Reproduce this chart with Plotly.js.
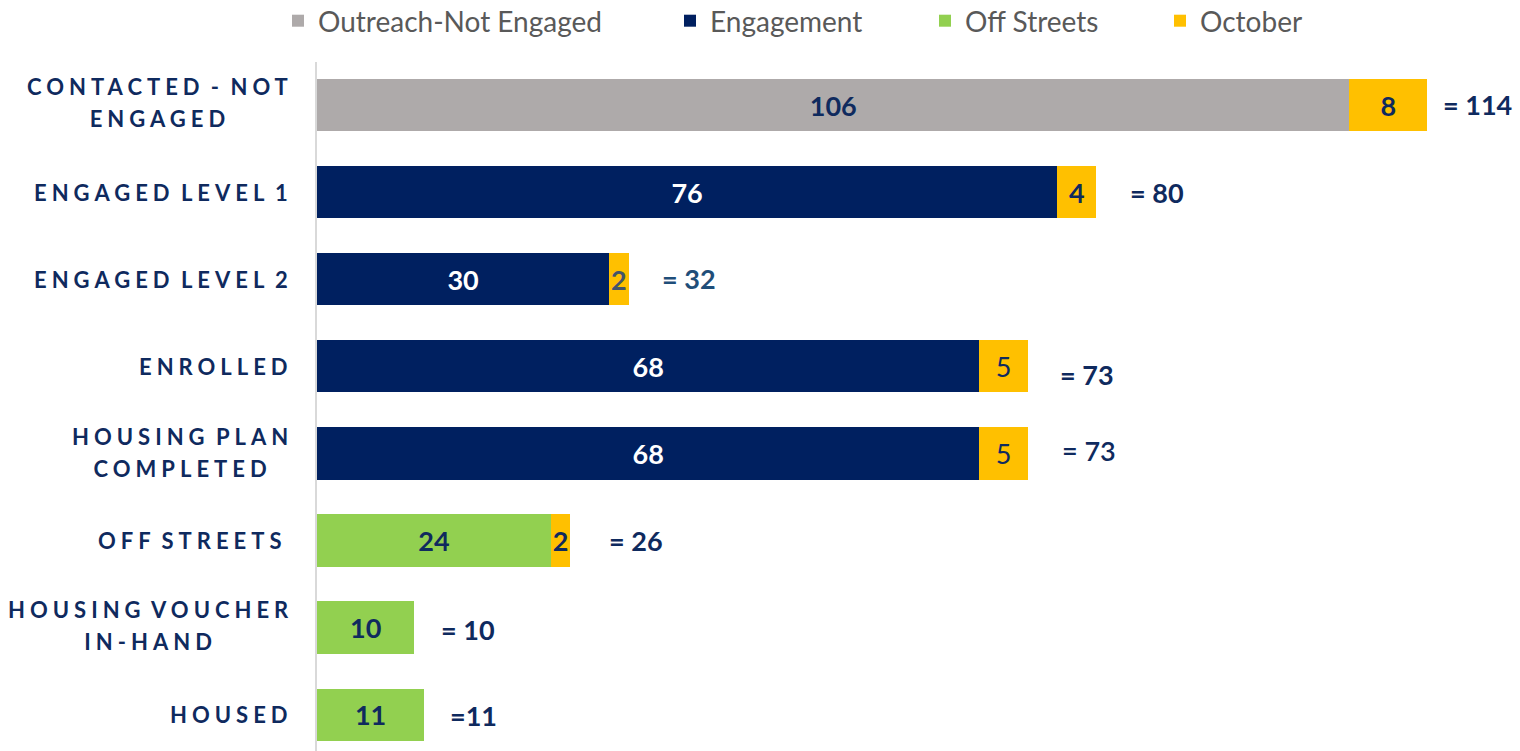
<!DOCTYPE html>
<html>
<head>
<meta charset="utf-8">
<script src="https://cdn.plot.ly/plotly-3.0.1.min.js"></script>
<style>
  html, body { margin: 0; padding: 0; background: #fff; }
  #chart { width: 1520px; height: 751px; }
  /* category labels (the only 22px annotations); also matches Plotly's measuring clone */
  text.annotation-text[style*="font-size: 22px"] {
    letter-spacing: 5px; word-spacing: -4px;
  }
</style>
</head>
<body>
<div id="chart"></div>
<script>
// ---- data ----
const categories = [
  "CONTACTED - NOT<br>ENGAGED",
  "ENGAGED LEVEL 1",
  "ENGAGED LEVEL 2",
  "ENROLLED",
  "HOUSING PLAN<br>COMPLETED",
  "OFF STREETS\u00a0",
  "HOUSING VOUCHER<br>IN-HAND",
  "HOUSED"
];
const outreachNotEngaged = [106, null, null, null, null, null, null, null];
const engagement         = [null, 76, 30, 68, 68, null, null, null];
const offStreets         = [null, null, null, null, null, 24, 10, 11];
const october            = [8, 4, 2, 5, 5, 2, null, null];
const totals             = [114, 80, 32, 73, 73, 26, 10, 11];
const totalLabels        = ["= 114", "= 80", "= 32", "= 73", "= 73", "= 26", "= 10", "=11"];
const seriesNames        = ["Outreach-Not Engaged", "Engagement", "Off Streets", "October"];

// ---- styles ----
const NAVY = "#0F2A5E";
const colors = { outreach: "#AEAAAA", engagement: "#002060", off: "#92D050", oct: "#FFC000" };
const FONT = "Lato, 'Open Sans', sans-serif";
// fine positioning (pixels) for the total annotations and category labels
const totXShift = [14, 32, 31, 30, 32, 37, 25, 24];
const totYShift = [1, 0, 1, -8, 3, 0, -2, -1];
const totColor  = [NAVY, NAVY, "#1F4E79", NAVY, NAVY, NAVY, NAVY, NAVY];
const totWeight = [700, 700, 700, 700, 600, 700, 700, 700];
const catYShift = [3.6, 0, 0, 0, 2.6, 0, 3.1, 0];

function txt(arr) { return arr.map(v => v == null ? "" : String(v)); }

const common = {
  type: "bar", orientation: "h", y: categories,
  textposition: "inside", insidetextanchor: "middle", constraintext: "none",
  hoverinfo: "skip", width: 0.6
};

const traces = [
  Object.assign({}, common, {
    name: seriesNames[0], x: outreachNotEngaged, text: txt(outreachNotEngaged),
    marker: { color: colors.outreach },
    textfont: { family: FONT, size: 27, color: NAVY, weight: 700 },
    legend: "legend"
  }),
  Object.assign({}, common, {
    name: seriesNames[1], x: engagement, text: txt(engagement),
    marker: { color: colors.engagement },
    textfont: { family: FONT, size: 27, color: "#FFFFFF", weight: 700 },
    legend: "legend2"
  }),
  Object.assign({}, common, {
    name: seriesNames[2], x: offStreets, text: txt(offStreets),
    marker: { color: colors.off },
    textfont: { family: FONT, size: 27, color: NAVY, weight: 700 },
    legend: "legend3"
  }),
  Object.assign({}, common, {
    name: seriesNames[3], x: october, text: txt(october),
    marker: { color: colors.oct },
    textfont: {
      family: FONT, size: 27,
      color: [NAVY, NAVY, "#44546A", NAVY, NAVY, NAVY, NAVY, NAVY],
      weight: [700, 700, 700, 400, 400, 700, 700, 700]
    },
    legend: "legend4"
  })
];

// category labels (index 0..7) drawn as annotations so that two-line labels are centred
const catAnnotations = categories.map((c, i) => ({
  x: 0, xref: "paper", y: c, yref: "y",
  text: c, showarrow: false,
  xanchor: "right", yanchor: "middle", align: "center",
  xshift: -22, yshift: catYShift[i],
  font: { family: FONT, size: 22, color: NAVY, weight: 700 }
}));

const totAnnotations = totals.map((t, i) => ({
  x: t, y: categories[i], xref: "x", yref: "y",
  text: totalLabels[i], showarrow: false,
  xanchor: "left", yanchor: "middle",
  xshift: totXShift[i], yshift: totYShift[i],
  font: { family: FONT, size: 27, color: totColor[i], weight: totWeight[i] }
}));

function leg(xpx) {
  return {
    orientation: "h", x: (xpx - 317) / 1203, xanchor: "left",
    y: 1 + (62 - 21) / 689, yanchor: "middle",
    font: { family: FONT, size: 28, color: "#595959" },
    bgcolor: "rgba(0,0,0,0)", itemclick: false, itemdoubleclick: false
  };
}

const layout = {
  width: 1520, height: 751,
  margin: { l: 317, r: 0, t: 62, b: 0, autoexpand: false },
  paper_bgcolor: "#FFFFFF", plot_bgcolor: "#FFFFFF",
  barmode: "stack", bargap: 0.4,
  showlegend: true,
  legend: leg(278), legend2: leg(670), legend3: leg(925), legend4: leg(1160),
  xaxis: {
    range: [0, 1203 / 9.74], showgrid: false, zeroline: false,
    showticklabels: false, ticks: "", showline: false, fixedrange: true
  },
  yaxis: {
    type: "category", range: [7.417, -0.494],
    showgrid: false, zeroline: false, ticks: "", showticklabels: false,
    showline: true, linecolor: "#D9D9D9", linewidth: 2,
    fixedrange: true
  },
  annotations: catAnnotations.concat(totAnnotations)
};

Plotly.newPlot("chart", traces, layout, { displayModeBar: false, staticPlot: true }).then(gd => {
  // widen the line spacing of the two-line category labels
  for (let i = 0; i < categories.length; i++) {
    const g = gd.querySelector('.annotation[data-index="' + i + '"]');
    if (!g) continue;
    const lines = g.querySelectorAll("tspan.line");
    lines.forEach((ln, k) => { if (k > 0) ln.setAttribute("dy", (k * 1.45) + "em"); });
  }
});
</script>
</body>
</html>
